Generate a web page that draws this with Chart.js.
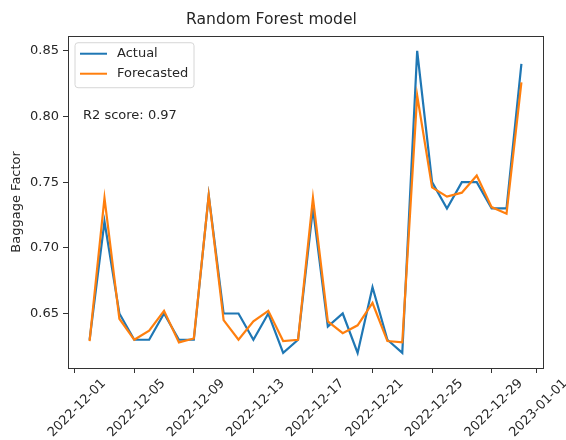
<!DOCTYPE html>
<html>
<head>
<meta charset="utf-8">
<script src="https://cdn.jsdelivr.net/npm/chart.js@4"></script>
<style>
  body { margin: 0; background: #fff; }
  #wrap { width: 566px; height: 440px; }
</style>
</head>
<body>
<div id="wrap"><canvas id="chart" width="566" height="440"></canvas></div>
<script>
const dates = [
  '2022-12-02','2022-12-03','2022-12-04','2022-12-05','2022-12-06','2022-12-07',
  '2022-12-08','2022-12-09','2022-12-10','2022-12-11','2022-12-12','2022-12-13',
  '2022-12-14','2022-12-15','2022-12-16','2022-12-17','2022-12-18','2022-12-19',
  '2022-12-20','2022-12-21','2022-12-22','2022-12-23','2022-12-24','2022-12-25',
  '2022-12-26','2022-12-27','2022-12-28','2022-12-29','2022-12-30','2022-12-31'
];
const actual = [
  0.63, 0.72, 0.65, 0.63, 0.63, 0.65, 0.63, 0.63, 0.74, 0.65,
  0.65, 0.63, 0.65, 0.62, 0.63, 0.73, 0.64, 0.65, 0.62, 0.67,
  0.63, 0.62, 0.85, 0.75, 0.73, 0.75, 0.75, 0.73, 0.73, 0.84
];
const forecasted = [
  0.629, 0.738, 0.646, 0.630, 0.637, 0.652, 0.628, 0.631, 0.740, 0.645,
  0.630, 0.644, 0.652, 0.629, 0.630, 0.738, 0.644, 0.635, 0.641, 0.658,
  0.629, 0.628, 0.816, 0.746, 0.739, 0.742, 0.755, 0.731, 0.726, 0.826
];
const xTickLabels = ['2022-12-01','2022-12-05','2022-12-09','2022-12-13','2022-12-17',
  '2022-12-21','2022-12-25','2022-12-29','2023-01-01'];
const yTicks = [0.65, 0.70, 0.75, 0.80, 0.85];
const r2Text = 'R2 score: 0.97';

// days since 2022-12-01
const dayNum = s => {
  const [y, m, d] = s.split('-').map(Number);
  return (Date.UTC(y, m - 1, d) - Date.UTC(2022, 11, 1)) / 86400000;
};
const xTickVals = xTickLabels.map(dayNum);

const FONT = 'DejaVu Sans';
const TXT = '#262626';

const framePlugin = {
  id: 'frame',
  afterDraw(chart) {
    const { ctx, chartArea: a } = chart;
    ctx.save();
    ctx.strokeStyle = '#333';
    ctx.lineWidth = 1;
    ctx.strokeRect(Math.round(a.left) + 0.5, Math.round(a.top) + 0.5,
      Math.round(a.right - a.left), Math.round(a.bottom - a.top));

    // legend box
    const lx = a.left + 7, ly = a.top + 7, lw = 119, lh = 45;
    ctx.beginPath();
    ctx.roundRect(lx, ly, lw, lh, 3);
    ctx.fillStyle = 'rgba(255,255,255,0.8)';
    ctx.fill();
    ctx.strokeStyle = '#d6d6d6';
    ctx.stroke();
    ctx.font = '13px ' + FONT;
    ctx.textBaseline = 'middle';
    chart.data.datasets.forEach((ds, i) => {
      const yy = ly + 11 + i * 20;
      ctx.strokeStyle = ds.borderColor;
      ctx.lineWidth = 2;
      ctx.beginPath();
      ctx.moveTo(lx + 5, yy);
      ctx.lineTo(lx + 32, yy);
      ctx.stroke();
      ctx.fillStyle = TXT;
      ctx.fillText(ds.label, lx + 42, yy);
    });

    ctx.fillStyle = TXT;
    ctx.fillText(r2Text, a.left + 15, a.top + 80);
    ctx.restore();
  }
};

new Chart(document.getElementById('chart'), {
  type: 'line',
  data: {
    datasets: [
      {
        label: 'Actual',
        data: dates.map((d, i) => ({ x: dayNum(d), y: actual[i] })),
        borderColor: '#1f77b4',
        borderWidth: 2.2,
        pointRadius: 0,
        tension: 0,
        order: 1
      },
      {
        label: 'Forecasted',
        data: dates.map((d, i) => ({ x: dayNum(d), y: forecasted[i] })),
        borderColor: '#ff7f0e',
        borderWidth: 2.2,
        pointRadius: 0,
        tension: 0,
        order: 0
      }
    ]
  },
  options: {
    responsive: false,
    animation: false,
    layout: { padding: { left: 0, right: 23, top: 0, bottom: 0 } },
    plugins: {
      legend: { display: false },
      tooltip: { enabled: false },
      title: {
        display: true,
        text: 'Random Forest model',
        color: TXT,
        font: { family: FONT, size: 15.6, weight: 'normal' },
        padding: { top: 11, bottom: 6 }
      }
    },
    scales: {
      x: {
        type: 'linear',
        min: -0.45,
        max: 31.45,
        afterBuildTicks: s => { s.ticks = xTickVals.map(v => ({ value: v })); },
        afterFit: s => { s.height = 72; },
        border: { display: false },
        grid: { drawOnChartArea: false, drawTicks: true, tickLength: 5, color: '#333' },
        ticks: {
          autoSkip: false,
          minRotation: 45,
          maxRotation: 45,
          padding: 3,
          labelOffset: 29,
          color: TXT,
          font: { family: FONT, size: 13 },
          callback: v => xTickLabels[xTickVals.indexOf(v)] || ''
        }
      },
      y: {
        min: 0.6085,
        max: 0.8615,
        afterBuildTicks: s => { s.ticks = yTicks.map(v => ({ value: v })); },
        afterFit: s => { s.width = 68; },
        border: { display: false },
        grid: { drawOnChartArea: false, drawTicks: true, tickLength: 5, color: '#333' },
        ticks: {
          padding: 4,
          color: TXT,
          font: { family: FONT, size: 13 },
          callback: v => v.toFixed(2)
        },
        title: {
          display: true,
          text: 'Baggage Factor',
          color: TXT,
          font: { family: FONT, size: 13 },
          padding: { top: 9, bottom: 0 }
        }
      }
    }
  },
  plugins: [framePlugin]
});
</script>
</body>
</html>
